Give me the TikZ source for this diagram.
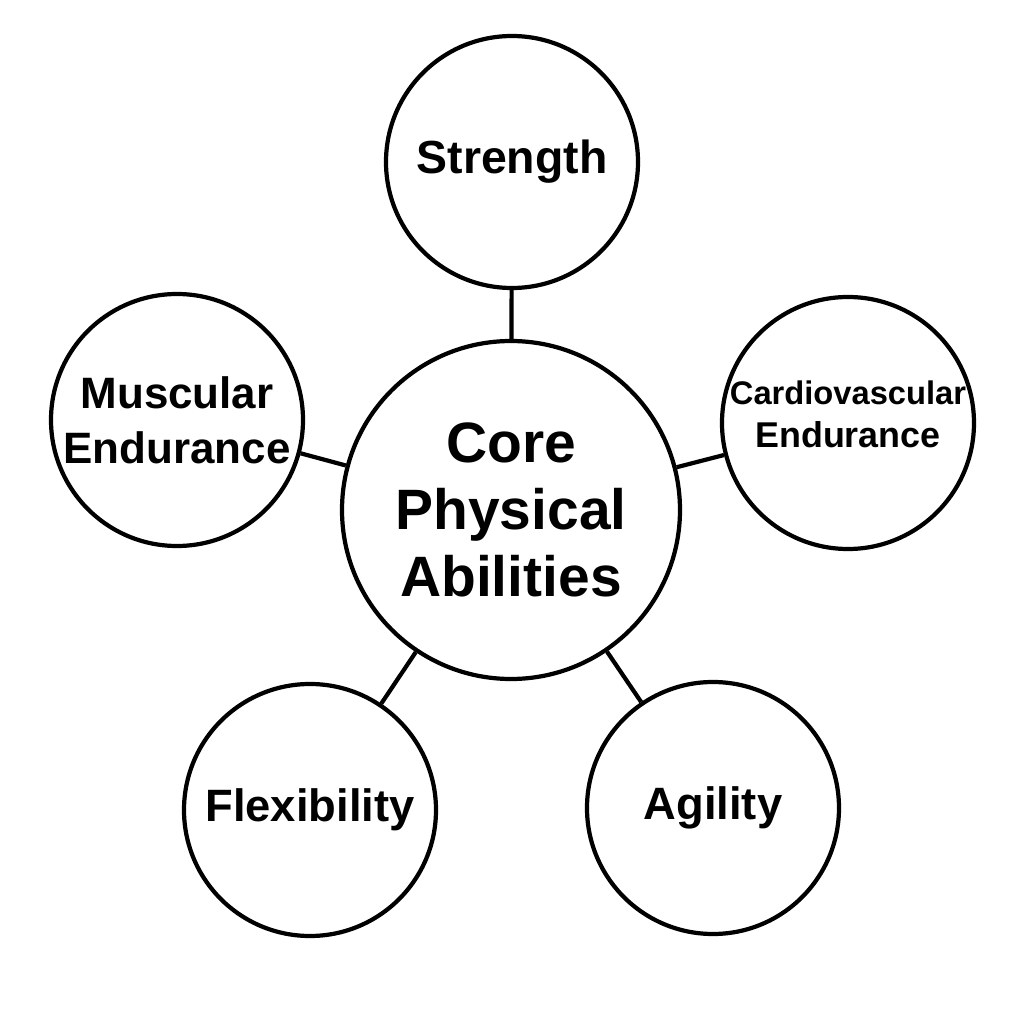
\documentclass[tikz,border=0pt]{standalone}
\usepackage{fontspec}
\setmainfont{Liberation Sans}
\tikzset{hub/.style={circle,draw=black,line width=1.2pt,minimum size=3.38cm,inner sep=0pt,align=center,font=\bfseries\fontsize{16.2}{19.1}\selectfont},
 ability/.style={circle,draw=black,line width=1.2pt,minimum size=2.52cm,inner sep=0pt,align=center,font=\bfseries\fontsize{12.9}{15.6}\selectfont},
 link/.style={line width=1.2pt}}

\begin{document}
\begin{tikzpicture}[x=1cm,y=1cm]
 \useasboundingbox (0,0) rectangle (10.24,10.24);
 \node[hub] (core) at (5.11,5.14) {Core\\Physical\\Abilities};
 \node[ability,font=\bfseries\fontsize{13.2}{15.6}\selectfont] (strength) at (5.12,8.62) {Strength};
 \node[ability,font=\bfseries\fontsize{12.5}{15.6}\selectfont] (muscular) at (1.77,6.04) {Muscular\\Endurance};
 \node[ability,font=\bfseries\fontsize{10.2}{12.4}\selectfont,text depth=5pt] (cardio) at (8.48,6.01)
  {{\fontsize{9.3}{12.4}\selectfont Cardiovascular}\\Endurance};
 \node[ability] (flexibility) at (3.10,2.14) {Flexibility};
 \node[ability] (agility) at (7.13,2.16) {Agility};
 \foreach \n in {strength,muscular,cardio,flexibility,agility}
  \draw[link] (core) -- (\n);
\end{tikzpicture}
\end{document}
